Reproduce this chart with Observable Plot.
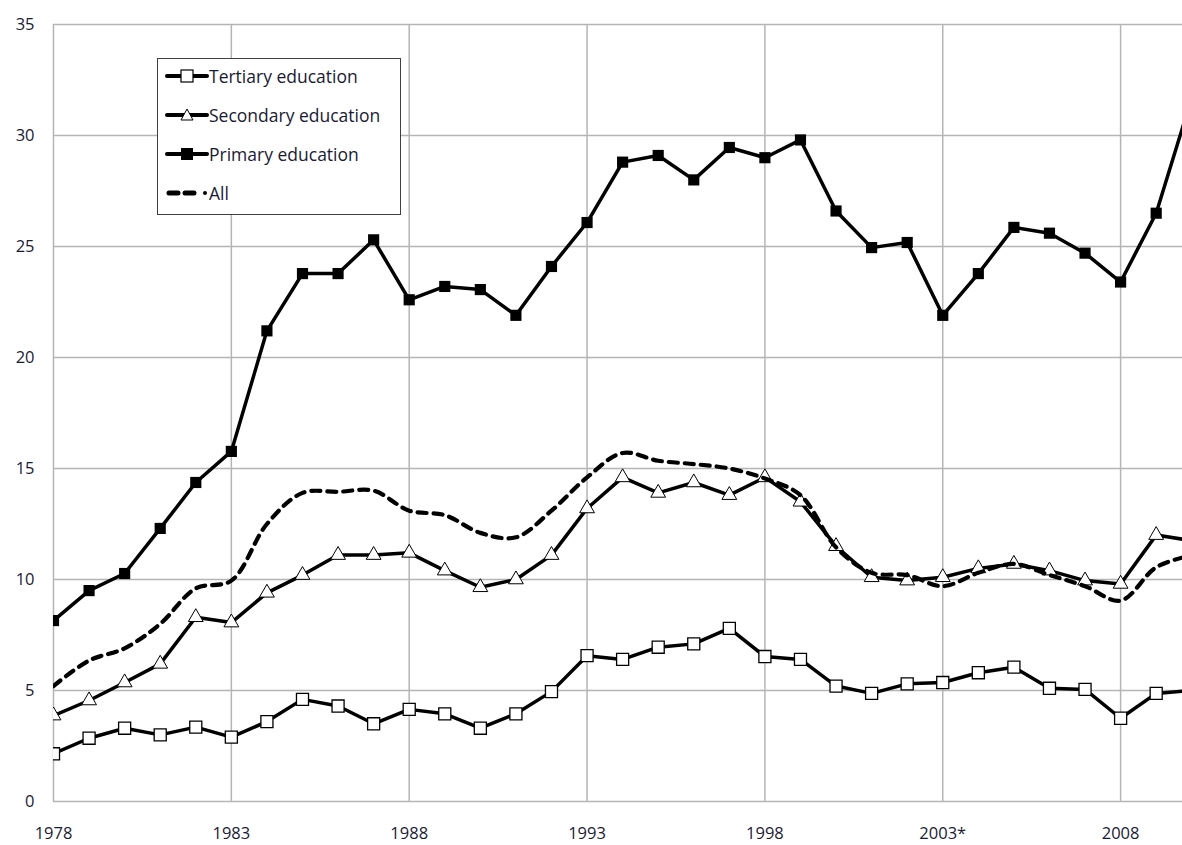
<!DOCTYPE html>
<html><head><meta charset="utf-8">
<script src="https://cdn.jsdelivr.net/npm/d3@7"></script>
<script src="https://cdn.jsdelivr.net/npm/@observablehq/plot@0.6"></script>
<style>
body{margin:0;background:#fff;}
#wrap{position:relative;width:1182px;height:845px;overflow:hidden;}
#legend{position:absolute;left:157px;top:58px;width:244px;height:157px;border:1.5px solid #404040;background:#fff;box-sizing:border-box;font-family:"Open Sans",Lato,sans-serif;font-size:17.5px;color:#1a1a33;}
.row{position:absolute;left:7px;height:22px;display:flex;align-items:center;white-space:nowrap;}
.row svg{display:block;margin-right:0px;}
</style></head>
<body>
<div id="wrap"><div id="chart"></div><div id="legend"></div></div>
<script>
const years = [1978,1979,1980,1981,1982,1983,1984,1985,1986,1987,1988,1989,1990,1991,1992,1993,1994,1995,1996,1997,1998,1999,2000,2001,2002,2003,2004,2005,2006,2007,2008,2009,2010];
const tertiary  = [2.15,2.85,3.3,3.0,3.35,2.9,3.6,4.6,4.3,3.5,4.15,3.95,3.3,3.95,4.95,6.57,6.4,6.95,7.1,7.8,6.53,6.4,5.2,4.87,5.3,5.36,5.8,6.05,5.1,5.05,3.75,4.87,5.0];
const secondary = [3.87,4.55,5.36,6.2,8.3,8.06,9.4,10.2,11.1,11.1,11.2,10.4,9.65,10.0,11.1,13.2,14.6,13.9,14.37,13.8,14.6,13.5,11.5,10.1,9.95,10.1,10.5,10.7,10.4,9.95,9.8,12.0,11.75];
const primary   = [8.15,9.5,10.27,12.3,14.37,15.77,21.2,23.78,23.78,25.3,22.6,23.2,23.06,21.9,24.1,26.08,28.8,29.1,28.0,29.46,29.0,29.8,26.6,24.95,25.18,21.9,23.78,25.86,25.6,24.7,23.4,26.5,31.7];
const allEd     = [5.2,6.35,6.9,8.0,9.6,9.95,12.5,13.9,13.95,14.0,13.1,12.9,12.1,11.9,13.1,14.6,15.7,15.35,15.2,15.0,14.55,13.8,11.45,10.3,10.2,9.7,10.3,10.7,10.2,9.7,9.05,10.55,11.1];
const xTicks = [1978,1983,1988,1993,1998,2003,2008];
const xTickLabels = ["1978","1983","1988","1993","1998","2003*","2008"];
const yTicks = [0,5,10,15,20,25,30,35];
const seriesNames = ["Tertiary education","Secondary education","Primary education","All"];

const mk = arr => years.map((y,i)=>({year:y, value:arr[i]}));
const T = mk(tertiary), S = mk(secondary), P = mk(primary), A = mk(allEd);
const grid = {stroke:"#b5b5b5", strokeOpacity:1, strokeWidth:1.5};
const font = '"Open Sans",Lato,sans-serif';

const chart = Plot.plot({
  width:1182, height:845,
  marginLeft:53, marginRight:0, marginTop:24, marginBottom:44,
  x:{domain:[1978, 2009.74]},
  y:{domain:[0,35]},
  style:{fontFamily:font, fontSize:"16.5px", color:"#1a1a33", background:"#fff"},
  marks:[
    Plot.gridY(yTicks, grid),
    Plot.gridX(xTicks, grid),
    Plot.axisY(yTicks, {tickSize:0, tickPadding:19, label:null, fontSize:16.5}),
    Plot.axisX(xTicks, {tickSize:0, tickPadding:26, label:null, fontSize:16.5, tickFormat:(d)=>xTickLabels[xTicks.indexOf(d)]}),
    Plot.line(T, {x:"year", y:"value", stroke:"#000", strokeWidth:3.5, clip:true}),
    Plot.dot(T, {x:"year", y:"value", symbol:"square", r:6.8, fill:"#fff", stroke:"#000", strokeWidth:1.3, clip:true}),
    Plot.line(S, {x:"year", y:"value", stroke:"#000", strokeWidth:3.5, clip:true}),
    Plot.dot(S, {x:"year", y:"value", symbol:"triangle", r:5.5, fill:"#fff", stroke:"#000", strokeWidth:1, clip:true}),
    Plot.line(P, {x:"year", y:"value", stroke:"#000", strokeWidth:3.5, clip:true}),
    Plot.dot(P, {x:"year", y:"value", symbol:"square", r:6.3, fill:"#000", stroke:"none", clip:true}),
    Plot.line(A, {x:"year", y:"value", stroke:"#000", strokeWidth:4.2, strokeDasharray:"9,7", strokeLinecap:"round", curve:"catmull-rom", clip:true})
  ]
});
document.getElementById("chart").appendChild(chart);

// legend
const leg = document.getElementById("legend");
const tops = [6, 45, 84, 123];
const samples = [
  `<line x1="2" y1="11" x2="42" y2="11" stroke="#000" stroke-width="4" stroke-linecap="round"/><rect x="16" y="5" width="12" height="12" fill="#fff" stroke="#000" stroke-width="1.2"/>`,
  `<line x1="2" y1="11" x2="42" y2="11" stroke="#000" stroke-width="4" stroke-linecap="round"/><path d="M22,5 L28,16 L16,16 Z" fill="#fff" stroke="#000" stroke-width="1"/>`,
  `<line x1="2" y1="11" x2="42" y2="11" stroke="#000" stroke-width="4" stroke-linecap="round"/><rect x="16" y="5" width="12" height="12" fill="#000"/>`,
  `<line x1="4" y1="11" x2="34" y2="11" stroke="#000" stroke-width="5" stroke-dasharray="9,7" stroke-linecap="round"/><circle cx="40" cy="11" r="2" fill="#000"/>`
];
seriesNames.forEach((name,i)=>{
  const row = document.createElement("div");
  row.className = "row";
  row.style.top = tops[i] + "px";
  row.innerHTML = `<svg width="44" height="22">${samples[i]}</svg><span>${name}</span>`;
  leg.appendChild(row);
});
</script>
</body></html>
